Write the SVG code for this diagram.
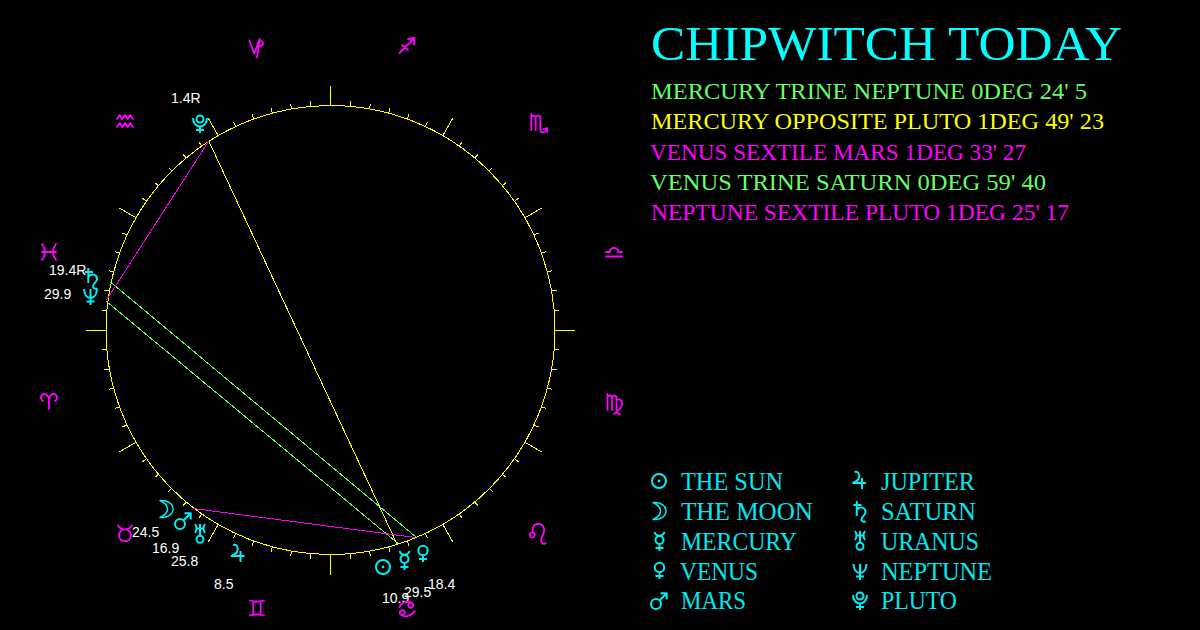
<svg xmlns="http://www.w3.org/2000/svg" xmlns:xlink="http://www.w3.org/1999/xlink" width="1200" height="630" viewBox="0 0 1200 630">
<style>
.wheel{fill:none;stroke:#ffff00;stroke-width:1;shape-rendering:crispEdges}
.asp{fill:none;stroke-width:1;shape-rendering:crispEdges}
.z{fill:none;stroke:#ff00ff;stroke-width:1.8;stroke-linecap:round;stroke-linejoin:round}
.p{fill:none;stroke:#00eef5;stroke-width:2;stroke-linecap:butt;stroke-linejoin:round}
.deg{font-family:"Liberation Sans",Arial,sans-serif;font-size:14px;fill:#ffffff}
.t{font-family:"Liberation Serif","Times New Roman",serif}
.h1{font-size:48px;fill:#00ffff}
.a{font-size:24px}
.lg{font-size:25px;fill:#00e8f0}
.gr{fill:#66ff66}.ye{fill:#ffff00}.ma{fill:#ff00ff}
</style>
<defs>
<line id="s" class="wheel" x1="330.5" y1="105.5" x2="330.5" y2="100.5"/>
<line id="l" class="wheel" x1="330.5" y1="105.5" x2="330.5" y2="85.5"/>
<g id="sec">
<use xlink:href="#l"/>
<use xlink:href="#s" transform="rotate(5 330.5 330)"/>
<use xlink:href="#s" transform="rotate(10 330.5 330)"/>
<use xlink:href="#s" transform="rotate(15 330.5 330)"/>
<use xlink:href="#s" transform="rotate(20 330.5 330)"/>
<use xlink:href="#s" transform="rotate(25 330.5 330)"/>
</g>
<g id="g-sun"><circle r="7"/><circle r="1.4" fill="#00eef5" stroke="none"/></g>
<path id="g-moon" stroke-width="1.5" d="M-6,-8.5 C2,-9 7,-5 7,0 C7,5 2,9 -6,8.5 C-0.5,6 1.5,3 1.5,0 C1.5,-3 -0.5,-6 -6,-8.5 Z"/>
<path id="g-mercury" d="M-5,-9 Q-4,-5.5 0,-5.3 Q4,-5.5 5,-9 M-4,-1 A4,4 0 1 0 4,-1 A4,4 0 1 0 -4,-1 M0,3 V10 M-4,7 H4"/>
<path id="g-venus" d="M-4.7,-2.5 A4.7,4.7 0 1 0 4.7,-2.5 A4.7,4.7 0 1 0 -4.7,-2.5 M0,2.2 V9 M-4,6 H4"/>
<path id="g-mars" d="M-8,3 A5,5 0 1 0 2,3 A5,5 0 1 0 -8,3 M0.5,-0.5 L7.7,-7.7 M1.5,-7.7 H7.7 V-1.5"/>
<path id="g-jupiter" d="M-5,-9 C-1,-10 1,-6 -1,-2 C-2,0 -4,1 -6.5,2 H6.5 M2.5,-3 V8"/>
<path id="g-saturn" d="M-2.7,-11 V4 M-6,-7 H2 M-2.7,-2 C0,-6 6,-5 6,0 C6,4 1,5 2,8 C3,10 5,10 6,9"/>
<path id="g-uranus" d="M-5,-10 C-3,-7.5 -3,-3.5 -5,-1 M5,-10 C3,-7.5 3,-3.5 5,-1 M-4,-5.5 H4 M0,-10 V2 M-3.5,5.3 A3.5,3.5 0 1 0 3.5,5.3 A3.5,3.5 0 1 0 -3.5,5.3"/>
<path id="g-neptune" d="M-6.5,-7 C-6,0 -3,2 0,2 C3,2 6,0 6.5,-7 M0,-7 V9 M-4,5.5 H4"/>
<path id="g-pluto" d="M-3.5,-5 A3.5,3.5 0 1 0 3.5,-5 A3.5,3.5 0 1 0 -3.5,-5 M-7,-6 C-7,0 -3,2.5 0,2.5 C3,2.5 7,0 7,-6 M0,2.5 V9 M-4,6 H4"/>
<path id="z-capricorn" d="M-7.7,-6.7 L-2.7,6.7 L2.7,-8 L0,10.7 M2.7,-6 A2.6,2.6 0 1 1 2.7,-1"/>
<path id="z-sagittarius" d="M-7.5,7 L7.5,-8 M1,-7 L7.5,-8 L7,-1.5 M-5,-1 L1,4"/>
<path id="z-scorpio" d="M-7.7,-10 V6 M-7.7,-7 Q-5.5,-10 -3.3,-7 V6 M-3.3,-7 Q-1,-10 1.3,-7 V5 C1.3,9 5.5,10.5 7.8,4.5 M4.5,5 L8,4 L8.3,8"/>
<path id="z-libra" d="M-8,4.5 H8 M-8,0 H-4 C-5,-5.5 5,-5.5 4,0 H8"/>
<path id="z-virgo" d="M-7.5,-10 V6 M-7.5,-7 Q-5,-10 -3,-7 V6 M-3,-7 Q0,-10 1.5,-7 V6 C1.5,9 3,10 5,10 M1.5,-4 C6,-6 8,-2 7,1 C6,4 3,7 -1,10"/>
<path id="z-leo" d="M-8.2,1 A2.5,2.5 0 1 0 -3.2,1 A2.5,2.5 0 1 0 -8.2,1 M-4.5,-1 C-7,-6 -4,-10 0,-10 C5,-10 7,-6 6,-2 C5,2 1,6 4,9 C5,10.5 7,10 7.5,9"/>
<path id="z-cancer" d="M1.2,-3.7 A2.5,2.5 0 1 0 6.2,-3.7 A2.5,2.5 0 1 0 1.2,-3.7 M5.5,-5.5 C3,-8.5 -5,-8 -7.5,-2 M-7.2,3.7 A2.5,2.5 0 1 0 -2.2,3.7 A2.5,2.5 0 1 0 -7.2,3.7 M-6.5,5.5 C-4,8.5 4,8 7.5,2"/>
<path id="z-gemini" d="M-7,-7.5 Q0,-5.5 7,-7.5 M-7,7.5 Q0,5.5 7,7.5 M-3.7,-6.5 V6.5 M3.7,-6.5 V6.5"/>
<path id="z-taurus" d="M-6,2.3 A6,6 0 1 0 6,2.3 A6,6 0 1 0 -6,2.3 M-7,-7.5 C-5,-4 -2,-3.7 0,-3.7 C2,-3.7 5,-4 7,-7.5"/>
<path id="z-aries" d="M0,8 V-2 M0,-2 C-1,-7 -5,-8 -7,-6 C-9,-4 -8,-1 -6,0 M0,-2 C1,-7 5,-8 7,-6 C9,-4 8,-1 6,0"/>
<path id="z-pisces" d="M-7,-8 Q-1,0 -7,8 M7,-8 Q1,0 7,8 M-7,0 H7"/>
<path id="z-aquarius" d="M-8,-2 L-5.3,-6 L-2.7,-2 L0,-6 L2.7,-2 L5.3,-6 L8,-2 M-8,6 L-5.3,2 L-2.7,6 L0,2 L2.7,6 L5.3,2 L8,6"/>
</defs>
<rect width="1200" height="630" fill="#000000"/>
<g id="wheel">
<circle class="wheel" cx="330.5" cy="330" r="224.5"/>
<use xlink:href="#sec"/>
<use xlink:href="#sec" transform="rotate(30 330.5 330)"/>
<use xlink:href="#sec" transform="rotate(60 330.5 330)"/>
<use xlink:href="#sec" transform="rotate(90 330.5 330)"/>
<use xlink:href="#sec" transform="rotate(120 330.5 330)"/>
<use xlink:href="#sec" transform="rotate(150 330.5 330)"/>
<use xlink:href="#sec" transform="rotate(180 330.5 330)"/>
<use xlink:href="#sec" transform="rotate(210 330.5 330)"/>
<use xlink:href="#sec" transform="rotate(240 330.5 330)"/>
<use xlink:href="#sec" transform="rotate(270 330.5 330)"/>
<use xlink:href="#sec" transform="rotate(300 330.5 330)"/>
<use xlink:href="#sec" transform="rotate(330 330.5 330)"/>
</g>
<g id="connectors">
<line class="asp" stroke="#66ff66" x1="110.5" y1="282" x2="416.5" y2="537.5"/>
<line class="asp" stroke="#66ff66" x1="106.5" y1="301.5" x2="398" y2="543.5"/>
<line class="asp" stroke="#ffff00" x1="209" y1="141.5" x2="397" y2="544"/>
<line class="asp" stroke="#ff00ff" x1="106.5" y1="300" x2="208.5" y2="141.5"/>
<line class="asp" stroke="#ff00ff" x1="193" y1="508.5" x2="415.5" y2="537.5"/>
</g>
<g id="sign-capricorn"><use xlink:href="#z-capricorn" class="z" transform="translate(257 47)"/></g>
<g id="sign-sagittarius"><use xlink:href="#z-sagittarius" class="z" transform="translate(407 46)"/></g>
<g id="sign-scorpio"><use xlink:href="#z-scorpio" class="z" transform="translate(539 124)"/></g>
<g id="sign-libra"><use xlink:href="#z-libra" class="z" transform="translate(614 252)"/></g>
<g id="sign-virgo"><use xlink:href="#z-virgo" class="z" transform="translate(615 404)"/></g>
<g id="sign-leo"><use xlink:href="#z-leo" class="z" transform="translate(538 534)"/></g>
<g id="sign-gemini"><use xlink:href="#z-gemini" class="z" transform="translate(257 608)"/></g>
<g id="sign-taurus"><use xlink:href="#z-taurus" class="z" transform="translate(125 533)"/></g>
<g id="sign-aries"><use xlink:href="#z-aries" class="z" transform="translate(49 401)"/></g>
<g id="sign-pisces"><use xlink:href="#z-pisces" class="z" transform="translate(49 252)"/></g>
<g id="sign-aquarius"><use xlink:href="#z-aquarius" class="z" transform="translate(125 121)"/></g>
<g id="planet-pluto"><use xlink:href="#g-pluto" class="p" transform="translate(200 124)"/><text class="deg" x="171" y="103">1.4R</text></g>
<g id="planet-neptune"><use xlink:href="#g-neptune" class="p" transform="translate(90.5 296)"/><text class="deg" x="44" y="299">29.9</text></g>
<g id="planet-saturn"><text class="deg" x="49" y="275">19.4R</text><use xlink:href="#g-saturn" class="p" transform="translate(91 279)"/></g>
<g id="planet-moon"><use xlink:href="#g-moon" class="p" transform="translate(166 509)"/><text class="deg" x="132" y="537">24.5</text></g>
<g id="planet-mars"><use xlink:href="#g-mars" class="p" transform="translate(183 521)"/><text class="deg" x="152" y="553">16.9</text></g>
<g id="planet-uranus"><use xlink:href="#g-uranus" class="p" transform="translate(200 534)"/><text class="deg" x="171" y="566">25.8</text></g>
<g id="planet-jupiter"><use xlink:href="#g-jupiter" class="p" transform="translate(238 554)"/><text class="deg" x="214" y="589">8.5</text></g>
<g id="planet-sun"><use xlink:href="#g-sun" class="p" transform="translate(383 567)"/><text class="deg" x="382" y="603">10.9</text></g>
<g id="planet-mercury"><use xlink:href="#g-mercury" class="p" transform="translate(404.5 560)"/><text class="deg" x="404" y="597">29.5</text></g>
<g id="planet-venus"><use xlink:href="#g-venus" class="p" transform="translate(423 553)"/><text class="deg" x="428" y="589">18.4</text></g>
<g id="sign-cancer"><use xlink:href="#z-cancer" class="z" transform="translate(407 609)"/></g>
<g id="title"><text class="t h1" x="651" y="60" textLength="471" lengthAdjust="spacingAndGlyphs">CHIPWITCH TODAY</text></g>
<g id="aspects">
<text class="t a gr" x="651" y="99" textLength="436" lengthAdjust="spacingAndGlyphs">MERCURY TRINE NEPTUNE 0DEG 24' 5</text>
<text class="t a ye" x="651" y="129" textLength="453" lengthAdjust="spacingAndGlyphs">MERCURY OPPOSITE PLUTO 1DEG 49' 23</text>
<text class="t a ma" x="650" y="160" textLength="376" lengthAdjust="spacingAndGlyphs">VENUS SEXTILE MARS 1DEG 33' 27</text>
<text class="t a gr" x="650" y="190" textLength="396" lengthAdjust="spacingAndGlyphs">VENUS TRINE SATURN 0DEG 59' 40</text>
<text class="t a ma" x="651" y="220" textLength="418" lengthAdjust="spacingAndGlyphs">NEPTUNE SEXTILE PLUTO 1DEG 25' 17</text>
</g>
<g id="legend">
<g id="legend-sun"><use xlink:href="#g-sun" class="p" transform="translate(659 481)"/><text class="t lg" x="681" y="490" textLength="102" lengthAdjust="spacingAndGlyphs">THE SUN</text></g>
<g id="legend-moon"><use xlink:href="#g-moon" class="p" transform="translate(659 511)"/><text class="t lg" x="681" y="520" textLength="132" lengthAdjust="spacingAndGlyphs">THE MOON</text></g>
<g id="legend-mercury"><use xlink:href="#g-mercury" class="p" transform="translate(659.5 541)"/><text class="t lg" x="681" y="550" textLength="116" lengthAdjust="spacingAndGlyphs">MERCURY</text></g>
<g id="legend-venus"><use xlink:href="#g-venus" class="p" transform="translate(659.5 570)"/><text class="t lg" x="680" y="580" textLength="78" lengthAdjust="spacingAndGlyphs">VENUS</text></g>
<g id="legend-mars"><use xlink:href="#g-mars" class="p" transform="translate(659 601)"/><text class="t lg" x="681" y="609" textLength="65" lengthAdjust="spacingAndGlyphs">MARS</text></g>
<g id="legend-jupiter"><use xlink:href="#g-jupiter" class="p" transform="translate(859.5 481)"/><text class="t lg" x="881" y="490" textLength="94" lengthAdjust="spacingAndGlyphs">JUPITER</text></g>
<g id="legend-saturn"><use xlink:href="#g-saturn" class="p" transform="translate(859.5 512)"/><text class="t lg" x="881" y="520" textLength="95" lengthAdjust="spacingAndGlyphs">SATURN</text></g>
<g id="legend-uranus"><use xlink:href="#g-uranus" class="p" transform="translate(860 541)"/><text class="t lg" x="881" y="550" textLength="98" lengthAdjust="spacingAndGlyphs">URANUS</text></g>
<g id="legend-neptune"><use xlink:href="#g-neptune" class="p" transform="translate(860 571)"/><text class="t lg" x="881" y="580" textLength="111" lengthAdjust="spacingAndGlyphs">NEPTUNE</text></g>
<g id="legend-pluto"><use xlink:href="#g-pluto" class="p" transform="translate(860 601)"/><text class="t lg" x="881" y="609" textLength="76" lengthAdjust="spacingAndGlyphs">PLUTO</text></g>
</g>
</svg>
